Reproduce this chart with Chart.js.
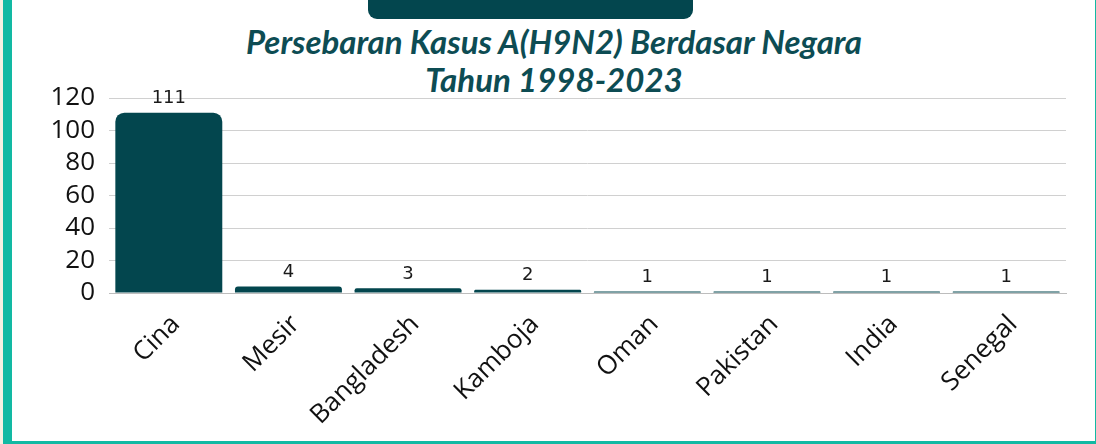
<!DOCTYPE html>
<html>
<head>
<meta charset="utf-8">
<script src="https://cdn.jsdelivr.net/npm/chart.js@4.4.1/dist/chart.umd.min.js"></script>
<style>
  html, body { margin: 0; padding: 0; background: #f6f1e3; }
  .frame {
    position: absolute; left: 3px; top: 0; width: 1093px; height: 444px;
    background: #fff; box-sizing: border-box;
    border-left: 9px solid #12b9a3; border-right: 1px solid #12b9a3; border-bottom: 3px solid #12b9a3;
  }
  .tab {
    position: absolute; left: 368px; top: 0; width: 325px; height: 19px;
    background: #03464e; border-radius: 0 0 9px 9px;
  }
  .title {
    position: absolute; left: 154px; top: 22px; width: 800px;
    text-align: center; color: #0d4c53; white-space: nowrap;
    font: italic bold 33px/38px Lato, sans-serif;
  }
  #wrap { position: absolute; left: 0; top: 0; width: 1096px; height: 444px; }
</style>
</head>
<body>
<div class="frame"></div>
<div class="tab"></div>
<div class="title">Persebaran Kasus A(H9N2) Berdasar Negara<br>Tahun 1998-2023</div>
<div id="wrap"><canvas id="myChart"></canvas></div>
<script>
const countries = ['Cina', 'Mesir', 'Bangladesh', 'Kamboja', 'Oman', 'Pakistan', 'India', 'Senegal'];
const cases = [111, 4, 3, 2, 1, 1, 1, 1];
const yTicks = [0, 20, 40, 60, 80, 100, 120];

const barLabels = {
  id: 'barLabels',
  afterDatasetsDraw(chart) {
    const ctx = chart.ctx;
    const meta = chart.getDatasetMeta(0);
    ctx.save();
    ctx.font = '18px "DejaVu Sans"';
    ctx.fillStyle = '#1a1a1a';
    ctx.textAlign = 'center';
    ctx.textBaseline = 'bottom';
    meta.data.forEach((bar, i) => {
      ctx.fillText(cases[i], bar.x, bar.y - 5);
    });
    ctx.restore();
  }
};

const ctx = document.getElementById('myChart');

new Chart(ctx, {
  type: 'bar',
  data: {
    labels: countries,
    datasets: [{
      label: 'Kasus',
      data: cases,
      backgroundColor: '#03464e',
      borderRadius: { topLeft: 9, topRight: 9 },
      borderSkipped: 'bottom',
      barPercentage: 0.894,
      categoryPercentage: 1,
    }]
  },
  options: {
    responsive: true,
    maintainAspectRatio: false,
    animation: false,
    layout: { padding: { left: 9, right: 30, top: 98, bottom: 0 } },
    plugins: {
      legend: { display: false },
      tooltip: { enabled: false },
      title: { display: false }
    },
    scales: {
      x: {
        grid: { display: false },
        border: { display: true, color: '#bdbdbd', width: 1 },
        ticks: {
          color: '#111',
          font: { family: 'Open Sans', size: 26 },
          minRotation: 45,
          maxRotation: 45,
          padding: 8,
          labelOffset: 7,
        },
        afterFit(scale) { scale.height = 151; }
      },
      y: {
        min: 0,
        max: 120,
        afterBuildTicks(scale) { scale.ticks = yTicks.map(v => ({ value: v })); },
        grid: { color: '#d0d0d0', lineWidth: 1, drawTicks: false },
        border: { display: false },
        ticks: {
          color: '#111',
          autoSkip: false,
          font: { family: 'Open Sans', size: 26 },
          padding: 14,
        },
        afterFit(scale) { scale.width = 100; }
      }
    }
  },
  plugins: [barLabels]
});
</script>
</body>
</html>
